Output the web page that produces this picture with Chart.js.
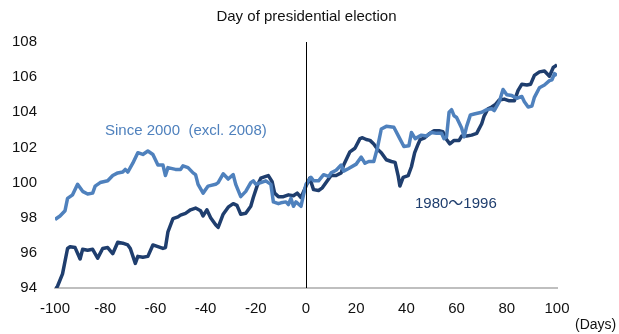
<!DOCTYPE html>
<html>
<head>
<meta charset="utf-8">
<script src="https://cdn.jsdelivr.net/npm/chart.js@4"></script>
<style>
  html, body { margin: 0; padding: 0; background: #fff; }
  #wrap { width: 619px; height: 334px; }
</style>
</head>
<body>
<div id="wrap"><canvas id="chart"></canvas></div>
<script>
// Days relative to the election and index level (election day = 100)
const daysSince2000 = [-100, -98, -96, -95, -93, -91, -89, -87, -85, -84, -82, -79, -77, -75, -73, -72, -71, -69, -67, -65,
  -63, -61, -59, -57, -56, -55, -52, -50, -49, -47, -45, -44, -43, -41, -39, -36, -35, -33, -31, -29,
  -28, -26, -24, -22, -21, -20, -18, -16, -14, -13, -11, -10, -8, -7, -6, -5, -4, -2, -1, 0,
  2, 3, 5, 7, 9, 10, 12, 14, 15, 17, 20, 22, 23.5, 25, 27, 28.5, 30, 32, 35, 37,
  39, 41, 42, 43.5, 46, 48, 50, 52, 54, 55, 56, 57, 58, 59, 60, 62, 63, 64, 65.5, 67,
  70, 72, 74, 75, 77, 78.5, 80, 82, 84, 86, 87, 88.5, 90, 91, 93, 95, 97, 98, 99, 100];
const since2000 = [97.9, 98.1, 98.4, 99.1, 99.3, 99.9, 99.5, 99.35, 99.4, 99.8, 100.0, 100.1, 100.4, 100.55, 100.6, 100.75, 100.6, 101.1, 101.7, 101.6,
  101.8, 101.6, 101.0, 101.0, 100.4, 100.85, 100.75, 100.75, 100.95, 100.85, 100.55, 100.45, 99.9, 99.4, 99.8, 99.9, 100.0, 100.5, 100.2, 100.45,
  99.9, 99.2, 99.5, 100.0, 100.1, 99.9, 100.0, 100.1, 99.9, 98.9, 98.8, 98.85, 98.9, 98.75, 99.1, 98.65, 98.9, 98.65, 99.3, 99.9,
  100.3, 100.1, 100.1, 100.45, 100.35, 100.55, 100.7, 101.0, 100.65, 100.8, 101.05, 101.45, 101.1, 101.2, 101.2, 102.0, 103.05, 103.2, 103.15, 102.6,
  102.05, 102.1, 102.85, 102.5, 102.7, 102.65, 102.85, 102.8, 102.8, 102.5, 102.6, 104.0, 104.15, 103.8, 103.7, 103.1, 102.6, 103.2, 103.85, 103.9,
  104.0, 104.15, 104.2, 104.1, 104.6, 105.3, 105.0, 104.95, 104.8, 104.9, 104.6, 104.3, 104.35, 104.85, 105.4, 105.55, 105.8, 105.85, 106.2, 106.1];

const days1980 = [-100, -99, -97, -95, -94, -92, -90, -89, -87, -85, -83, -81, -79, -77, -75, -73, -71, -70, -68, -67,
  -65, -63, -61, -59, -57, -56, -55, -53, -51, -50, -48, -46, -44, -42, -41, -39.5, -38, -36, -35, -33,
  -31, -29, -27.5, -26, -24, -22, -21, -19.5, -18, -16, -15, -13.5, -12.5, -11, -9, -7, -5, -3.5, -2, 0,
  1.5, 3, 5, 6.5, 8, 10, 12, 14, 15, 17.5, 19.5, 21.5, 22.5, 24, 25.5, 27, 28.5, 30, 32, 34,
  35.5, 36.7, 37.4, 38.7, 40.7, 42, 43.3, 44.7, 45.5, 47.3, 49.3, 51, 53, 54.5, 56, 57.3, 59, 61, 62, 64,
  66, 68, 70, 71, 72.5, 74, 75.5, 77, 79, 81, 83, 84.5, 86, 88, 89.5, 91, 93, 95, 97, 98.5, 100];
const y1980 = [93.9, 94.1, 94.8, 96.25, 96.35, 96.3, 95.65, 96.2, 96.15, 96.2, 95.7, 96.25, 96.3, 95.95, 96.6, 96.55, 96.45, 96.25, 95.4, 95.8,
  95.75, 95.8, 96.45, 96.35, 96.25, 96.3, 97.2, 97.95, 98.05, 98.15, 98.25, 98.45, 98.55, 98.4, 98.1, 98.45, 98.0, 97.6, 97.45, 98.2,
  98.6, 98.8, 98.7, 98.2, 98.25, 98.65, 99.15, 99.8, 100.25, 100.35, 100.4, 100.05, 99.4, 99.2, 99.2, 99.3, 99.25, 99.4, 99.15, 99.8,
  100.25, 99.6, 99.55, 99.7, 100.0, 100.4, 100.4, 100.55, 101.0, 101.75, 101.95, 102.5, 102.55, 102.45, 102.4, 102.2, 101.9, 101.7, 101.3, 101.2,
  101.15, 100.4, 99.8, 100.3, 100.4, 100.9, 101.7, 102.2, 102.45, 102.55, 102.8, 102.95, 102.95, 102.9, 102.45, 102.2, 102.4, 102.4, 102.65, 102.65,
  102.7, 102.8, 103.35, 103.8, 104.2, 104.3, 104.45, 104.7, 104.75, 104.65, 104.65, 105.25, 105.6, 105.55, 105.6, 106.1, 106.3, 106.35, 106.05, 106.55, 106.7];

const xTicks = [-100, -80, -60, -40, -20, 0, 20, 40, 60, 80, 100];
const yTicks = [94, 96, 98, 100, 102, 104, 106, 108];

const LIGHT = "#4f81bd";
const DARK = "#1f3e6e";
const FONT = "'Liberation Sans', Arial, 'Noto Sans CJK JP', sans-serif";

const toPoints = (xs, ys) => xs.map((d, i) => ({ x: d, y: ys[i] }));

// vertical line on election day + texts
const notes = {
  id: "notes",
  afterDatasetsDraw(chart) {
    const { ctx, chartArea, scales } = chart;
    const x0 = Math.round(scales.x.getPixelForValue(0)) + 0.5;
    ctx.save();
    ctx.strokeStyle = "#000";
    ctx.lineWidth = 1;
    ctx.beginPath();
    ctx.moveTo(x0, chartArea.top);
    ctx.lineTo(x0, chartArea.bottom);
    ctx.stroke();

    ctx.textBaseline = "middle";
    ctx.font = "15px " + FONT;
    ctx.fillStyle = "#111";
    ctx.textAlign = "center";
    ctx.fillText("Day of presidential election", x0, 17);

    ctx.textAlign = "left";
    ctx.fillStyle = LIGHT;
    ctx.fillText("Since 2000  (excl. 2008)", 105, 131);
    ctx.fillStyle = DARK;
    ctx.fillText("1980～1996", 415, 204);

    ctx.fillStyle = "#111";
    ctx.font = "14px " + FONT;
    ctx.fillText("(Days)", 575, 325);
    ctx.restore();
  },
};

new Chart(document.getElementById("chart"), {
  type: "line",
  data: {
    datasets: [
      {
        label: "Since 2000 (excl. 2008)",
        data: toPoints(daysSince2000, since2000),
        borderColor: LIGHT,
        borderWidth: 3.5,
        pointRadius: 0,
        tension: 0,
        borderJoinStyle: "round",
      },
      {
        label: "1980～1996",
        data: toPoints(days1980, y1980),
        borderColor: DARK,
        borderWidth: 3.5,
        pointRadius: 0,
        tension: 0,
        borderJoinStyle: "round",
      },
    ],
  },
  options: {
    responsive: true,
    maintainAspectRatio: false,
    animation: false,
    layout: { padding: { left: 0, right: 62, top: 42, bottom: 4 } },
    plugins: { legend: { display: false }, tooltip: { enabled: false } },
    scales: {
      x: {
        type: "linear",
        min: -100,
        max: 100,
        afterBuildTicks: (s) => { s.ticks = xTicks.map((v) => ({ value: v })); },
        grid: { display: false, drawTicks: false },
        border: { display: true, color: "#bfbfbf", width: 2 },
        ticks: { color: "#111", font: { family: FONT, size: 15 }, padding: 12, maxRotation: 0 },
      },
      y: {
        min: 94,
        max: 108,
        afterBuildTicks: (s) => { s.ticks = yTicks.map((v) => ({ value: v })); },
        afterFit: (s) => { s.width = 55; },
        grid: { display: false, drawTicks: false },
        border: { display: false },
        ticks: { color: "#111", font: { family: FONT, size: 15 }, padding: 18 },
      },
    },
  },
  plugins: [notes],
});
</script>
</body>
</html>
